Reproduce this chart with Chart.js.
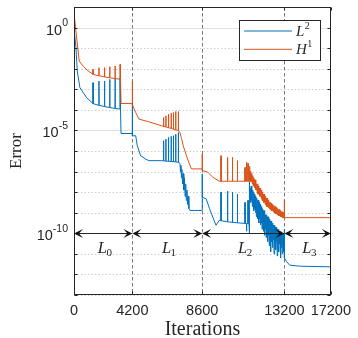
<!DOCTYPE html>
<html lang="en">
<head>
<meta charset="UTF-8">
<title>Error vs iterations</title>
<script src="https://cdn.jsdelivr.net/npm/chart.js"></script>
<style>
  html, body { margin: 0; padding: 0; background: #fff; }
  #wrap { width: 358px; height: 338px; }
</style>
</head>
<body>
<div id="wrap"><canvas id="errChart"></canvas></div>
<script>
// level boundaries / x tick labels (iterations)
const iterTicks = [0, 4200, 8600, 13200, 17200];
// where each tick sits along the axis (the original axis is not evenly spaced)
const axisFrac = [0, 0.2272, 0.4992, 0.8192, 1];
const levelSubs = ['0', '1', '2', '3'];

// decades for grid, labelled ones
const yGridExp = [1, 0, -1, -2, -3, -4, -5, -6, -7, -8, -9, -10, -11, -12, -13];
const yLabelExp = [0, -5, -10];
const arrowExp = -10;

const seriesNames = ['L', 'H'];
const seriesSups = ['2', '1'];

// L2 error up to the noisy part of level 2: iteration, log10(error)
const l2Iter = [
  0, 142, 234, 425, 900,
  1367, 1372, 1377, 1792, 1797, 1802, 2196, 2201, 2206,
  2571, 2576, 2581, 2954, 2959, 2964, 3308, 3313, 3318,
  3379, 3384, 4195, 4200, 4205,
  4411, 4510, 4720, 5030, 5235, 6059,
  6164, 6169, 6174, 6307, 6312, 6317, 6474, 6479, 6484, 6642, 6647, 6652,
  6784, 6789, 6794, 6927, 6932, 6937, 7094, 7099, 7104,
  7199, 7230, 7260, 7290, 7320, 7360, 7400, 7440, 7480, 7520, 7560, 7600,
  7640, 7680, 7720, 7760, 7819, 8595, 8600, 8605,
  8820, 9008, 9189, 9371, 9559,
  9647, 9652, 9657, 10016, 10021, 10026, 10291, 10296, 10301, 10567, 10572, 10577,
  10990, 10995, 11000, 11080, 11085, 11090, 11160, 11165, 11170, 11220, 11225, 11230
];
const l2Exp = [
  -0.05, -0.98, -2.11, -2.92, -3.4,
  -3.69, -2.68, -3.70, -3.78, -2.60, -3.78, -3.84, -2.60, -3.84,
  -3.89, -2.52, -3.89, -3.93, -2.47, -3.93, -3.96, -2.43, -3.97,
  -3.97, -5.15, -5.15, -3.70, -5.26,
  -5.26, -5.74, -6.23, -6.39, -6.47, -6.47,
  -6.48, -5.50, -6.48, -6.49, -5.42, -6.49, -6.50, -5.34, -6.50, -6.51, -5.29, -6.51,
  -6.52, -5.26, -6.52, -6.53, -5.18, -6.53, -6.55, -5.10, -6.55,
  -6.6, -7.0, -6.7, -7.3, -6.9, -7.6, -7.1, -7.9, -7.3, -8.2, -7.6, -8.4,
  -7.9, -8.6, -8.2, -8.8, -8.89, -8.89, -7.11, -8.25,
  -8.32, -8.8, -9.21, -9.61, -9.37,
  -9.39, -8.0, -9.39, -9.44, -7.95, -9.44, -9.47, -8.0, -9.47, -9.49, -8.1, -9.49,
  -9.52, -8.5, -9.52, -9.53, -9.9, -9.53, -9.53, -8.4, -9.53, -9.55, -10.0, -9.55
];

// noisy end of level 2 (both series share these iterations)
const bandIter = [
  11250, 11272, 11295, 11317, 11340, 11362, 11385, 11407, 11430, 11452,
  11475, 11497, 11520, 11542, 11565, 11587, 11610, 11632, 11655, 11677,
  11700, 11722, 11745, 11767, 11790, 11812, 11835, 11857, 11880, 11902,
  11925, 11947, 11970, 11992, 12015, 12037, 12060, 12082, 12105, 12127,
  12150, 12172, 12195, 12217, 12240, 12262, 12285, 12307, 12330, 12352,
  12375, 12397, 12420, 12442, 12465, 12487, 12510, 12532, 12555, 12577,
  12600, 12622, 12645, 12667, 12690, 12712, 12735, 12757, 12780, 12802,
  12825, 12847, 12870, 12892, 12915, 12937, 12960, 12982, 13005, 13027,
  13050, 13072, 13095, 13117, 13140, 13162, 13185, 13195
];
const l2BandExp = [
  -7.5, -8.3, -7.8, -8.5, -7.7, -8.4, -7.9, -8.7, -7.9, -8.6,
  -8.0, -8.9, -8.1, -8.8, -8.2, -9.0, -8.2, -9.2, -8.3, -9.1,
  -8.4, -9.3, -8.4, -9.5, -8.5, -9.3, -8.6, -9.6, -8.6, -9.5,
  -8.7, -9.8, -8.8, -9.6, -8.9, -9.9, -8.9, -10.1, -9.0, -9.8,
  -9.1, -10.2, -9.1, -10.0, -9.2, -10.4, -9.2, -10.1, -9.3, -10.6,
  -9.3, -10.2, -9.4, -10.9, -9.4, -10.4, -9.5, -10.7, -9.5, -10.3,
  -9.6, -11.0, -9.6, -10.5, -9.7, -10.8, -9.7, -10.4, -9.8, -11.1,
  -9.8, -10.6, -9.8, -10.9, -9.9, -10.5, -9.9, -11.2, -9.9, -10.7,
  -10.0, -11.0, -10.0, -10.6, -10.0, -10.9, -10.1, -10.3
];
const h1BandExp = [
  -6.9, -7.4, -7.0, -7.5, -7.1, -7.5, -7.2, -7.6, -7.2, -7.7,
  -7.3, -7.7, -7.4, -7.8, -7.4, -7.9, -7.5, -7.9, -7.6, -8.0,
  -7.6, -8.1, -7.7, -8.1, -7.8, -8.2, -7.8, -8.2, -7.9, -8.3,
  -7.9, -8.4, -8.0, -8.4, -8.1, -8.5, -8.1, -8.5, -8.2, -8.6,
  -8.2, -8.6, -8.3, -8.7, -8.3, -8.7, -8.4, -8.75, -8.4, -8.8,
  -8.5, -8.8, -8.5, -8.85, -8.55, -8.9, -8.6, -8.9, -8.6, -8.95,
  -8.65, -9.0, -8.7, -9.0, -8.7, -9.05, -8.75, -9.05, -8.8, -9.1,
  -8.8, -9.1, -8.85, -9.15, -8.85, -9.15, -8.9, -9.2, -8.9, -9.2,
  -8.95, -9.2, -8.95, -9.25, -9.0, -9.25, -9.0, -9.2
];

// level 3
const l2TailIter = [13200, 13205, 13386, 13666, 14500, 17200];
const l2TailExp = [-9.8, -11.2, -11.38, -11.55, -11.6, -11.63];

// H1 error up to the noisy part of level 2
const h1Iter = [
  0, 191, 375, 659, 1000,
  1367, 1372, 1377, 1792, 1797, 1802, 2196, 2201, 2206,
  2571, 2576, 2581, 2954, 2959, 2964, 3308, 3313, 3318,
  3379, 3384, 4195, 4200, 4205,
  4411, 4615, 5235, 6059,
  6164, 6169, 6174, 6307, 6312, 6317, 6474, 6479, 6484, 6642, 6647, 6652,
  6784, 6789, 6794, 6927, 6932, 6937, 7094, 7099, 7104,
  7199, 7300, 7404, 7550, 7714, 7918, 8595, 8600, 8605,
  8914, 9189, 9559,
  9647, 9652, 9657, 10016, 10021, 10026, 10291, 10296, 10301, 10567, 10572, 10577,
  10990, 10995, 11000, 11080, 11085, 11090, 11160, 11165, 11170, 11240, 11245
];
const h1Exp = [
  0.71, -0.5, -1.63, -1.87, -2.1,
  -2.27, -2.03, -2.28, -2.34, -1.95, -2.34, -2.40, -1.95, -2.40,
  -2.44, -1.90, -2.44, -2.48, -1.87, -2.48, -2.51, -1.79, -2.52,
  -2.53, -3.69, -3.69, -2.6, -3.75,
  -4.13, -4.45, -4.58, -4.78,
  -4.80, -4.37, -4.80, -4.83, -4.29, -4.83, -4.87, -4.21, -4.87, -4.90, -4.16, -4.90,
  -4.94, -4.13, -4.94, -4.97, -4.08, -4.97, -5.01, -4.08, -5.01,
  -5.1, -5.4, -5.74, -6.1, -6.47, -6.87, -6.87, -6.14, -6.95,
  -7.03, -7.27, -7.47,
  -7.47, -6.23, -7.47, -7.47, -6.31, -7.47, -7.47, -6.31, -7.47, -7.47, -6.47, -7.47,
  -7.47, -6.8, -7.47, -7.47, -6.55, -7.47, -7.47, -6.6, -7.47, -7.48, -6.75
];
const h1TailIter = [13200, 13205, 17200];
const h1TailExp = [-8.4, -9.24, -9.24];

const BLUE = '#0072BD';
const ORANGE = '#D95319';
const INK = '#262626';

// linear scale whose segments between level boundaries have their own lengths
class PiecewiseScale extends Chart.LinearScale {
  static id = 'piecewise';
  static defaults = Chart.LinearScale.defaults;
  getPixelForValue(value) {
    const b = iterTicks, f = axisFrac;
    let i = 1;
    while (i < b.length - 1 && value > b[i]) i++;
    const d = f[i - 1] + (value - b[i - 1]) / (b[i] - b[i - 1]) * (f[i] - f[i - 1]);
    return this.getPixelForDecimal(d);
  }
  getValueForPixel(pixel) {
    const d = this.getDecimalForPixel(pixel);
    const b = iterTicks, f = axisFrac;
    let i = 1;
    while (i < f.length - 1 && d > f[i]) i++;
    return b[i - 1] + (d - f[i - 1]) / (f[i] - f[i - 1]) * (b[i] - b[i - 1]);
  }
}
Chart.register(PiecewiseScale);

const toPoints = (xs, es) => xs.map((x, i) => ({ x: x, y: Math.pow(10, es[i]) }));

const l2Points = toPoints(l2Iter.concat(bandIter, l2TailIter), l2Exp.concat(l2BandExp, l2TailExp));
const h1Points = toPoints(h1Iter.concat(bandIter, h1TailIter), h1Exp.concat(h1BandExp, h1TailExp));

function arrowHead(ctx, xt, yt, dir) {
  const len = 9, half = 4.5;
  ctx.beginPath();
  ctx.moveTo(xt, yt);
  ctx.lineTo(xt - dir * len, yt - half);
  ctx.lineTo(xt - dir * len * 0.55, yt);
  ctx.lineTo(xt - dir * len, yt + half);
  ctx.closePath();
  ctx.fill();
}

const decor = {
  id: 'decor',
  beforeDatasetsDraw(chart) {
    const { ctx, chartArea: a, scales: { x, y } } = chart;
    ctx.save();
    ctx.lineWidth = 1;
    yGridExp.forEach(e => {
      const py = Math.round(y.getPixelForValue(Math.pow(10, e))) + 0.5;
      const major = yLabelExp.includes(e);
      ctx.strokeStyle = major ? '#e2e2e2' : '#cfcfcf';
      ctx.setLineDash(major ? [] : [1.5, 2]);
      ctx.beginPath();
      ctx.moveTo(a.left, py);
      ctx.lineTo(a.right, py);
      ctx.stroke();
    });
    // dashed level boundaries
    ctx.strokeStyle = '#777';
    ctx.setLineDash([3.5, 2.5]);
    iterTicks.slice(1, -1).forEach(v => {
      const px = Math.round(x.getPixelForValue(v)) + 0.5;
      ctx.beginPath();
      ctx.moveTo(px, a.top);
      ctx.lineTo(px, a.bottom);
      ctx.stroke();
    });
    ctx.restore();
  },
  afterDatasetsDraw(chart) {
    const { ctx, chartArea: a, scales: { x, y } } = chart;
    ctx.save();
    ctx.setLineDash([]);
    ctx.lineWidth = 1;
    ctx.strokeStyle = INK;

    // axes box
    const L = Math.round(a.left) + 0.5, R = Math.round(a.right) - 0.5;
    const T = Math.round(a.top) + 0.5, B = Math.round(a.bottom) - 0.5;
    ctx.strokeRect(L, T, R - L, B - T);

    // inner ticks
    ctx.beginPath();
    yGridExp.forEach(e => {
      const py = Math.round(y.getPixelForValue(Math.pow(10, e))) + 0.5;
      ctx.moveTo(L, py); ctx.lineTo(L + 3, py);
      ctx.moveTo(R, py); ctx.lineTo(R - 3, py);
    });
    iterTicks.forEach(v => {
      const px = Math.round(x.getPixelForValue(v)) + 0.5;
      ctx.moveTo(px, B); ctx.lineTo(px, B - 3);
      ctx.moveTo(px, T); ctx.lineTo(px, T + 3);
    });
    ctx.stroke();

    // y tick labels 10^n
    ctx.fillStyle = INK;
    ctx.textAlign = 'left';
    ctx.textBaseline = 'alphabetic';
    yLabelExp.forEach(e => {
      const py = y.getPixelForValue(Math.pow(10, e));
      const sup = String(e);
      ctx.font = '10.5px "Liberation Sans"';
      const sw = ctx.measureText(sup).width;
      ctx.font = '14.5px "Liberation Sans"';
      const bw = ctx.measureText('10').width;
      const right = a.left - 6;
      ctx.fillText('10', right - sw - bw, py + 7);
      ctx.font = '10.5px "Liberation Sans"';
      ctx.fillText(sup, right - sw, py - 1.5);
    });

    // level arrows
    const ay = Math.round(y.getPixelForValue(Math.pow(10, arrowExp))) + 0.5;
    for (let i = 0; i < iterTicks.length - 1; i++) {
      const x0 = x.getPixelForValue(iterTicks[i]);
      const x1 = x.getPixelForValue(iterTicks[i + 1]);
      ctx.beginPath();
      ctx.moveTo(x0 + 4, ay);
      ctx.lineTo(x1 - 4, ay);
      ctx.stroke();
      ctx.fillStyle = '#111';
      arrowHead(ctx, x0, ay, -1);
      arrowHead(ctx, x1, ay, 1);
      // label L_i
      ctx.fillStyle = INK;
      ctx.font = 'italic 16.5px "Liberation Serif"';
      const lw = ctx.measureText('L').width;
      ctx.font = '11px "Liberation Serif"';
      const sw = ctx.measureText(levelSubs[i]).width;
      const cx = (x0 + x1) / 2 + 2;
      const sx = cx - (lw + sw) / 2;
      ctx.font = 'italic 16.5px "Liberation Serif"';
      ctx.fillText('L', sx, ay + 19);
      ctx.font = '11px "Liberation Serif"';
      ctx.fillText(levelSubs[i], sx + lw - 0.5, ay + 22);
    }

    // legend
    const bx = Math.round(a.right) - 91.5, by = Math.round(a.top) + 13.5;
    const bw = 81, bh = 40;
    ctx.fillStyle = '#fff';
    ctx.fillRect(bx, by, bw, bh);
    ctx.strokeStyle = INK;
    ctx.strokeRect(bx, by, bw, bh);
    chart.data.datasets.forEach((ds, i) => {
      const ry = by + 10.5 + i * 18.3;
      ctx.strokeStyle = ds.borderColor;
      ctx.beginPath();
      ctx.moveTo(bx + 4.5, ry);
      ctx.lineTo(bx + 52.5, ry);
      ctx.stroke();
      ctx.fillStyle = INK;
      ctx.font = 'italic 15px "Liberation Serif"';
      ctx.fillText(seriesNames[i], bx + 56.5, ry + 5);
      const nw = ctx.measureText(seriesNames[i]).width;
      ctx.font = '10px "Liberation Serif"';
      ctx.fillText(seriesSups[i], bx + 57 + nw, ry - 2);
    });
    ctx.restore();
  }
};

new Chart(document.getElementById('errChart'), {
  type: 'line',
  data: {
    datasets: [
      { label: 'L2', data: l2Points, borderColor: BLUE, borderWidth: 1, order: 2 },
      { label: 'H1', data: h1Points, borderColor: ORANGE, borderWidth: 1, order: 1 }
    ]
  },
  options: {
    responsive: true,
    maintainAspectRatio: false,
    animation: false,
    events: [],
    layout: { padding: { top: 7, right: 23, left: 0, bottom: 0 } },
    elements: { point: { radius: 0 }, line: { tension: 0 } },
    plugins: { legend: { display: false }, tooltip: { enabled: false } },
    scales: {
      x: {
        type: 'piecewise',
        min: 0,
        max: 17200,
        afterBuildTicks: s => { s.ticks = iterTicks.map(v => ({ value: v })); },
        afterFit: s => { s.height = 43; },
        grid: { display: false, drawTicks: false },
        border: { display: false },
        ticks: {
          autoSkip: false, maxRotation: 0, padding: 7, color: INK,
          font: { family: 'Liberation Sans', size: 14.5 },
          callback: v => String(v)
        },
        title: {
          display: true, text: 'Iterations', color: INK,
          font: { family: 'Liberation Serif', size: 20, lineHeight: 1 },
          padding: { top: 0, bottom: -2 }
        }
      },
      y: {
        type: 'logarithmic',
        min: 1e-13,
        max: 10,
        afterBuildTicks: s => { s.ticks = yGridExp.map(e => ({ value: Math.pow(10, e) })); },
        afterFit: s => { s.width = 74; },
        grid: { display: false },
        border: { display: false },
        ticks: { display: false },
        title: {
          display: true, text: 'Error', color: INK,
          font: { family: 'Liberation Serif', size: 17 },
          padding: { top: 6.5, bottom: 0 }
        }
      }
    }
  },
  plugins: [decor]
});
</script>
</body>
</html>
